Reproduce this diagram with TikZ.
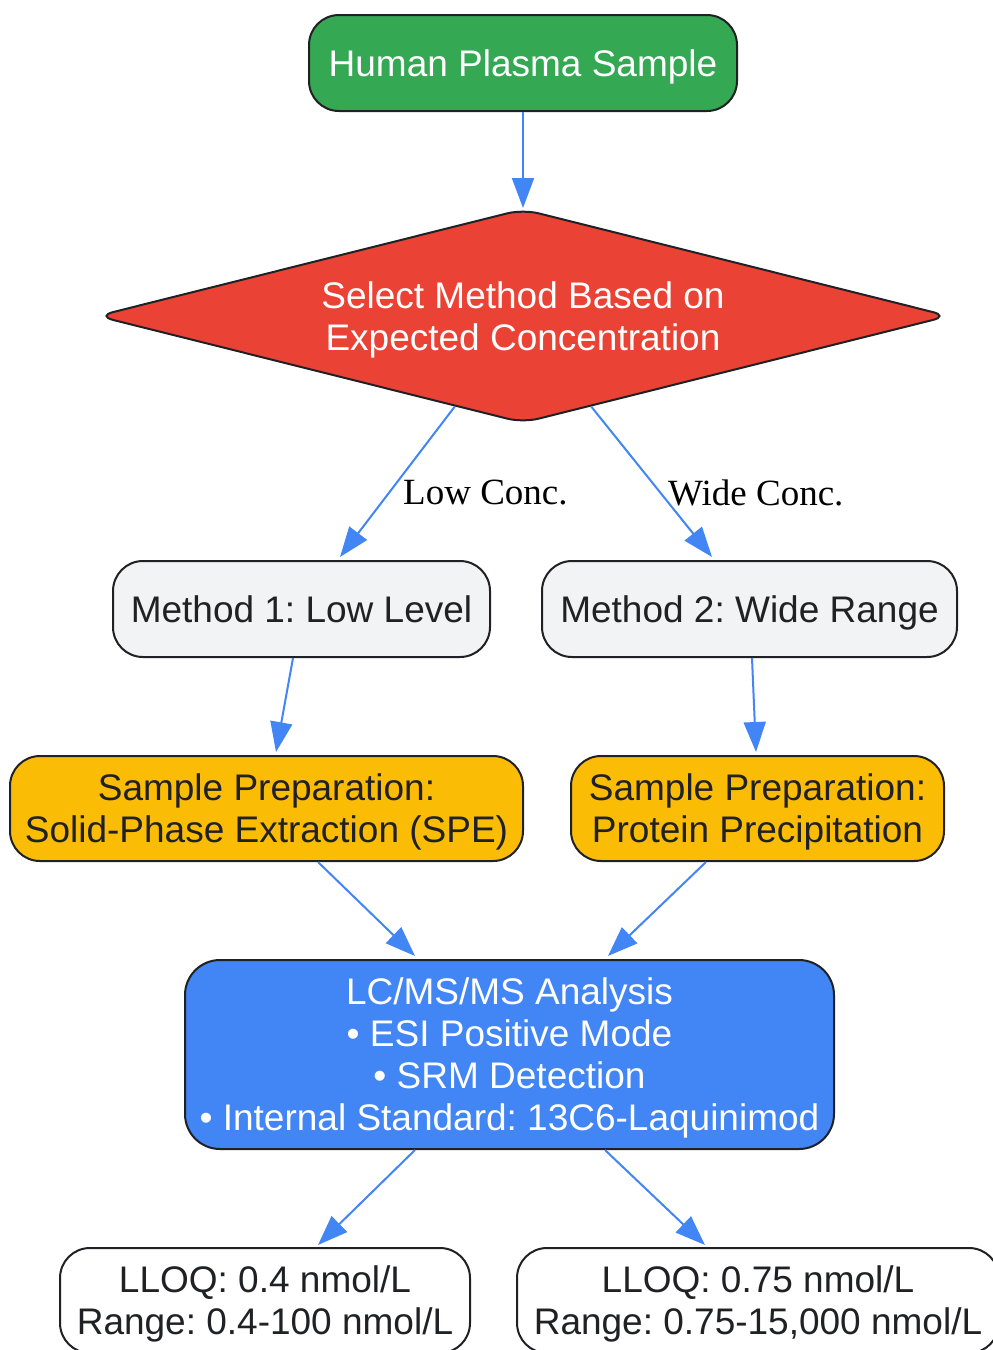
\documentclass[tikz,border=0pt]{standalone}
\usepackage{fontspec}
\setmainfont{Liberation Sans}
\newfontfamily\lblfont{Liberation Serif}
\usetikzlibrary{shapes.geometric,arrows.meta,calc}
\definecolor{gGreen}{HTML}{34A853}
\definecolor{gRed}{HTML}{EA4335}
\definecolor{gYellow}{HTML}{FBBC05}
\definecolor{gBlue}{HTML}{4285F4}
\definecolor{gGrey}{HTML}{F1F3F4}
\definecolor{gDark}{HTML}{202124}
\frenchspacing
\tikzset{
  box/.style={draw=gDark, line width=2pt, rounded corners=30pt, inner sep=0pt, text depth=-6pt,
    align=center, font=\frenchspacing\fontsize{37}{42}\selectfont, text=gDark},
  arr/.style={draw=gBlue, line width=2pt, -{Triangle[length=30pt,width=22pt]}},
  lbl/.style={font=\lblfont\fontsize{37}{42}\selectfont, text=black, inner sep=0pt},
}
\begin{document}
\begin{tikzpicture}[x=1pt,y=-1pt]
\clip (0,0) rectangle (993,1350);
\fill[white] (0,0) rectangle (993,1350);
\node[box, fill=gGreen, text=white, minimum width=428pt, minimum height=96pt] (hps) at (523,63) {Human Plasma Sample};
\node[diamond, aspect=3.97, draw=gDark, line width=2pt, fill=gRed, text=white, rounded corners=16pt, inner sep=0pt, text depth=-4pt,
  minimum width=852pt, minimum height=214pt, align=center, font=\fontsize{37}{42}\selectfont] (dia) at (523,316)
  {Select Method Based on\\Expected Concentration};
\node[box, fill=gGrey, minimum width=377pt, minimum height=96pt] (m1) at (301.5,609) {Method 1: Low Level};
\node[box, fill=gGrey, minimum width=415pt, minimum height=96pt] (m2) at (749.5,609) {Method 2: Wide Range};
\node[box, fill=gYellow, minimum width=513pt, minimum height=105pt] (spe) at (266.5,808.5) {Sample Preparation:\\Solid-Phase Extraction (SPE)};
\node[box, fill=gYellow, minimum width=373pt, minimum height=105pt] (pp) at (757.5,808.5) {Sample Preparation:\\Protein Precipitation};
\node[box, fill=gBlue, text=white, rounded corners=35pt, minimum width=649pt, minimum height=189pt] (lc) at (509.5,1054.5)
  {LC/MS/MS Analysis\\\textbullet{} ESI Positive Mode\\\textbullet{} SRM Detection\\\textbullet{} Internal Standard: 13C6-Laquinimod};
\node[box, fill=white, minimum width=410pt, minimum height=105pt] (l1) at (265,1300.5) {LLOQ: 0.4 nmol/L\\Range: 0.4-100 nmol/L};
\node[box, fill=white, minimum width=482pt, minimum height=105pt] (l2) at (758,1300.5) {LLOQ: 0.75 nmol/L\\Range: 0.75-15,000 nmol/L};

\draw[arr] (hps.south) -- (dia.north);
\draw[arr] (dia.233.6) -- ($(m1.north)+(38.5,-3)$);
\draw[arr] (dia.-53.6) -- ($(m2.north)+(-37.5,-3)$);
\node[lbl, anchor=west] (lowlbl) at (403,493) {Low Conc.};
\node[lbl, anchor=west] (widelbl) at (668,493) {Wide Conc.};
\draw[arr] ($(m1.south)+(-8.5,0)$) -- ($(spe.north)+(9.5,-3)$);
\draw[arr] ($(m2.south)+(2.5,0)$) -- ($(pp.north)+(-1.5,-3)$);
\draw[arr] ($(spe.south)+(51.5,0)$) -- ($(lc.north)+(-94.5,-3)$);
\draw[arr] ($(pp.south)+(-51.5,0)$) -- ($(lc.north)+(98.5,-3)$);
\draw[arr] ($(lc.south)+(-94.5,0)$) -- ($(l1.north)+(53,-2)$);
\draw[arr] ($(lc.south)+(95.5,0)$) -- ($(l2.north)+(-53,-2)$);
\end{tikzpicture}
\end{document}
